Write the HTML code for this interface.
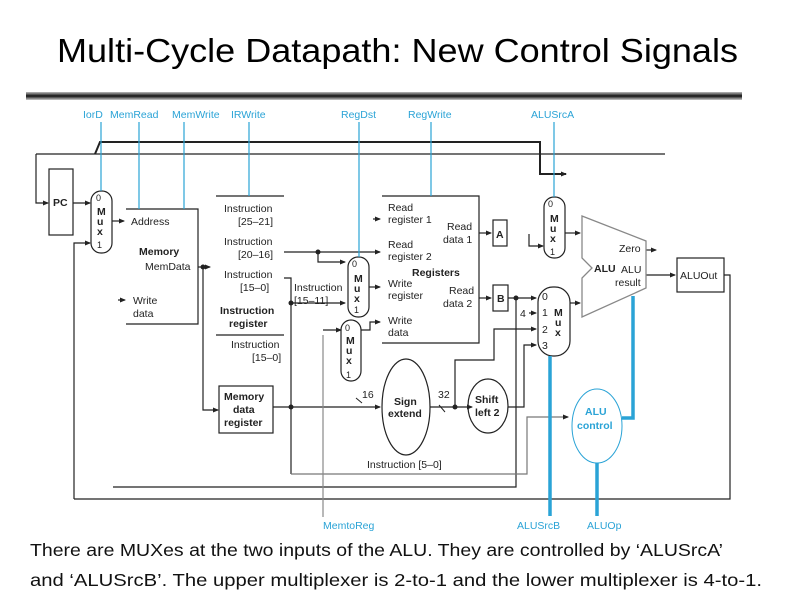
<!DOCTYPE html>
<html><head><meta charset="utf-8"><style>
html,body{margin:0;padding:0;background:#fff;}
svg{display:block;font-family:"Liberation Sans",Arial,sans-serif;}
.t{font-size:10.5px;fill:#222;}
.b{font-size:10.5px;font-weight:bold;fill:#222;}
.c{font-size:10.5px;fill:#2aa3d6;}
</style></head><body>
<svg width="792" height="612" viewBox="0 0 792 612" xmlns="http://www.w3.org/2000/svg">
<defs>
<linearGradient id="bar" x1="0" y1="0" x2="0" y2="1">
<stop offset="0" stop-color="#bbb"/><stop offset="0.5" stop-color="#111"/><stop offset="1" stop-color="#ccc"/>
</linearGradient>
<marker id="a" markerWidth="6" markerHeight="6" refX="5" refY="3" orient="auto" markerUnits="userSpaceOnUse"><path d="M0,0.5 L6,3 L0,5.5z" fill="#222"/></marker>
</defs>
<text x="57" y="62" font-size="33" textLength="681" lengthAdjust="spacingAndGlyphs" fill="#000">Multi-Cycle Datapath: New Control Signals</text>
<rect x="26" y="92" width="716" height="8" fill="url(#bar)"/>

<g stroke="#222" stroke-width="1.2" fill="none">
<path d="M95,154 L100,142 L540,142 L540,174 L566,174" stroke-width="2" marker-end="url(#a)"/>
<path d="M36,154 L665,154"/>
<path d="M36,154 L36,203 L48,203" marker-end="url(#a)"/>
<rect x="49" y="169" width="24" height="66"/>
<path d="M73,203 L90,203" marker-end="url(#a)"/>
<path d="M74,499 L74,243 L90,243" marker-end="url(#a)"/>
<path d="M74,499 L730,499 L730,275 L724,275"/>
<rect x="91" y="191" width="21" height="62" rx="10"/>
<path d="M112,221 L124,221" marker-end="url(#a)"/>
<path d="M126,209 L198,209 L198,324 L126,324"/>
<path d="M198,267 L210,267" marker-end="url(#a)"/>
<path d="M203,267 L203,410 L218,410" marker-end="url(#a)"/>
<path d="M516,298 L516,487 L113,487"/>
<path d="M118,300 L125,300" marker-end="url(#a)"/>
<path d="M216,196 L284,196 M216,335 L284,335"/>
<path d="M284,252 L380,252" marker-end="url(#a)"/>
<path d="M318,252 L318,262 L345,262" marker-end="url(#a)"/>
<path d="M284,278 L291,278 L291,474"/>
<path d="M291,303 L345,303" marker-end="url(#a)"/>
<path d="M373,219 L380,219" marker-end="url(#a)"/>
<rect x="219" y="386" width="54" height="47"/>
<path d="M273,407 L380,407" marker-end="url(#a)"/>
<path d="M291,474 L527,474 L527,417 L568,417" stroke="#777" marker-end="url(#a)"/>
<path d="M323,335 L323,517" stroke="#888"/>
<path d="M323,330 L341,330" marker-end="url(#a)"/>
<rect x="348" y="257" width="21" height="60" rx="10"/>
<path d="M369,287 L380,287" marker-end="url(#a)"/>
<rect x="341" y="320" width="20" height="61" rx="10"/>
<path d="M361,330 L370,330 L370,322 L380,322" marker-end="url(#a)"/>
<path d="M382,196 L479,196 L479,343 L382,343"/>
<path d="M479,233 L491,233" marker-end="url(#a)"/>
<path d="M479,298 L491,298" marker-end="url(#a)"/>
<rect x="493" y="220" width="14" height="26"/>
<rect x="493" y="285" width="15" height="26"/>
<path d="M508,298 L536,298" marker-end="url(#a)"/>
<rect x="544" y="197" width="21" height="61" rx="10"/>
<path d="M529,234 L529,246 L543,246" marker-end="url(#a)"/>
<path d="M565,233 L580,233" marker-end="url(#a)"/>
<rect x="538" y="287" width="32" height="69" rx="15"/>
<path d="M570,303 L580,303" marker-end="url(#a)"/>
<path d="M529,313 L536,313" marker-end="url(#a)"/>
<path d="M455,407 L455,360 L494,360 L494,329 L536,329" marker-end="url(#a)"/>
<path d="M430,407 L472,407" marker-end="url(#a)"/>
<path d="M508,407 L524,407 L524,345 L536,345" marker-end="url(#a)"/>
<path d="M646,250 L656,250" marker-end="url(#a)"/>
<path d="M646,275 L675,275" marker-end="url(#a)"/>
<rect x="677" y="258" width="47" height="34"/>
<path d="M356,398 L362,403 M439,405 L445,412" stroke-width="1"/>
<ellipse cx="406" cy="407" rx="24" ry="48"/>
<ellipse cx="488" cy="406" rx="20" ry="27"/>
</g>
<path d="M582,216 L646,241 L646,288 L582,317 L582,278 L592,268 L582,258 Z" fill="none" stroke="#888" stroke-width="1.3"/>
<g fill="#222">
<circle cx="203" cy="267" r="2.5"/><circle cx="318" cy="252" r="2.5"/><circle cx="291" cy="303" r="2.5"/>
<circle cx="291" cy="407" r="2.5"/><circle cx="516" cy="298" r="2.5"/><circle cx="455" cy="407" r="2.5"/>
</g>
<g stroke="#2aa3d6" fill="none">
<path d="M101,122 V191 M139,122 V209 M184,122 V209 M249,122 V196 M359,122 V257 M431,122 V196 M554,122 V197" stroke-width="1.2"/>
<path d="M550,356 V516 M597,463 V516 M622,418 H633 V296" stroke-width="3.5"/>
<ellipse cx="597" cy="426" rx="25" ry="37" stroke-width="1"/>
</g>
<g class="c">
<text x="83" y="118">IorD</text><text x="110" y="118">MemRead</text><text x="172" y="118">MemWrite</text><text x="231" y="118">IRWrite</text>
<text x="341" y="118">RegDst</text><text x="408" y="118">RegWrite</text><text x="531" y="118">ALUSrcA</text>
<text x="323" y="529">MemtoReg</text><text x="517" y="529">ALUSrcB</text><text x="587" y="529">ALUOp</text>
<text x="585" y="415" font-weight="bold">ALU</text><text x="577" y="429" font-weight="bold">control</text>
</g>
<g class="t">
<text x="53" y="206" class="b">PC</text>
<text x="96" y="201" font-size="9">0</text><text x="97" y="215" class="b">M</text><text x="97" y="225" class="b">u</text><text x="97" y="235" class="b">x</text><text x="97" y="248" font-size="9">1</text>
<text x="131" y="225">Address</text>
<text x="139" y="255" class="b">Memory</text><text x="145" y="270">MemData</text>
<text x="133" y="304">Write</text><text x="133" y="317">data</text>
<text x="224" y="212">Instruction</text><text x="238" y="225">[25–21]</text>
<text x="224" y="245">Instruction</text><text x="238" y="258">[20–16]</text>
<text x="224" y="278">Instruction</text><text x="240" y="291">[15–0]</text>
<text x="220" y="314" class="b">Instruction</text><text x="229" y="327" class="b">register</text>
<text x="231" y="348">Instruction</text><text x="252" y="361">[15–0]</text>
<text x="224" y="400" class="b">Memory</text><text x="233" y="413" class="b">data</text><text x="224" y="426" class="b">register</text>
<text x="294" y="291">Instruction</text><text x="294" y="304">[15–11]</text>
<text x="352" y="267" font-size="9">0</text><text x="354" y="282" class="b">M</text><text x="354" y="292" class="b">u</text><text x="354" y="302" class="b">x</text><text x="354" y="313" font-size="9">1</text>
<text x="345" y="331" font-size="9">0</text><text x="346" y="344" class="b">M</text><text x="346" y="354" class="b">u</text><text x="346" y="364" class="b">x</text><text x="346" y="378" font-size="9">1</text>
<text x="388" y="211">Read</text><text x="388" y="223">register 1</text>
<text x="388" y="248">Read</text><text x="388" y="260">register 2</text>
<text x="412" y="276" class="b">Registers</text>
<text x="388" y="287">Write</text><text x="388" y="299">register</text>
<text x="388" y="324">Write</text><text x="388" y="336">data</text>
<text x="447" y="230">Read</text><text x="443" y="243">data 1</text>
<text x="449" y="294">Read</text><text x="443" y="307">data 2</text>
<text x="496" y="238" class="b">A</text><text x="497" y="302" class="b">B</text>
<text x="548" y="207" font-size="9">0</text><text x="550" y="222" class="b">M</text><text x="550" y="232" class="b">u</text><text x="550" y="242" class="b">x</text><text x="550" y="255" font-size="9">1</text>
<text x="542" y="300">0</text><text x="542" y="316">1</text><text x="542" y="333">2</text><text x="542" y="349">3</text>
<text x="554" y="316" class="b">M</text><text x="555" y="326" class="b">u</text><text x="555" y="336" class="b">x</text>
<text x="520" y="317">4</text>
<text x="619" y="252">Zero</text><text x="594" y="272" class="b">ALU</text><text x="621" y="273">ALU</text><text x="615" y="286">result</text>
<text x="680" y="279">ALUOut</text>
<text x="362" y="398">16</text><text x="438" y="398">32</text>
<text x="394" y="405" class="b">Sign</text><text x="388" y="417" class="b">extend</text>
<text x="475" y="403" class="b">Shift</text><text x="475" y="416" class="b">left 2</text>
<text x="367" y="468">Instruction [5–0]</text>
</g>
<g font-size="17.5" fill="#111">
<text x="30" y="556" textLength="693" lengthAdjust="spacingAndGlyphs">There are MUXes at the two inputs of the ALU. They are controlled by ‘ALUSrcA’</text>
<text x="30" y="586" textLength="732" lengthAdjust="spacingAndGlyphs">and ‘ALUSrcB’. The upper multiplexer is 2-to-1 and the lower multiplexer is 4-to-1.</text>
</g>
</svg>
</body></html>
